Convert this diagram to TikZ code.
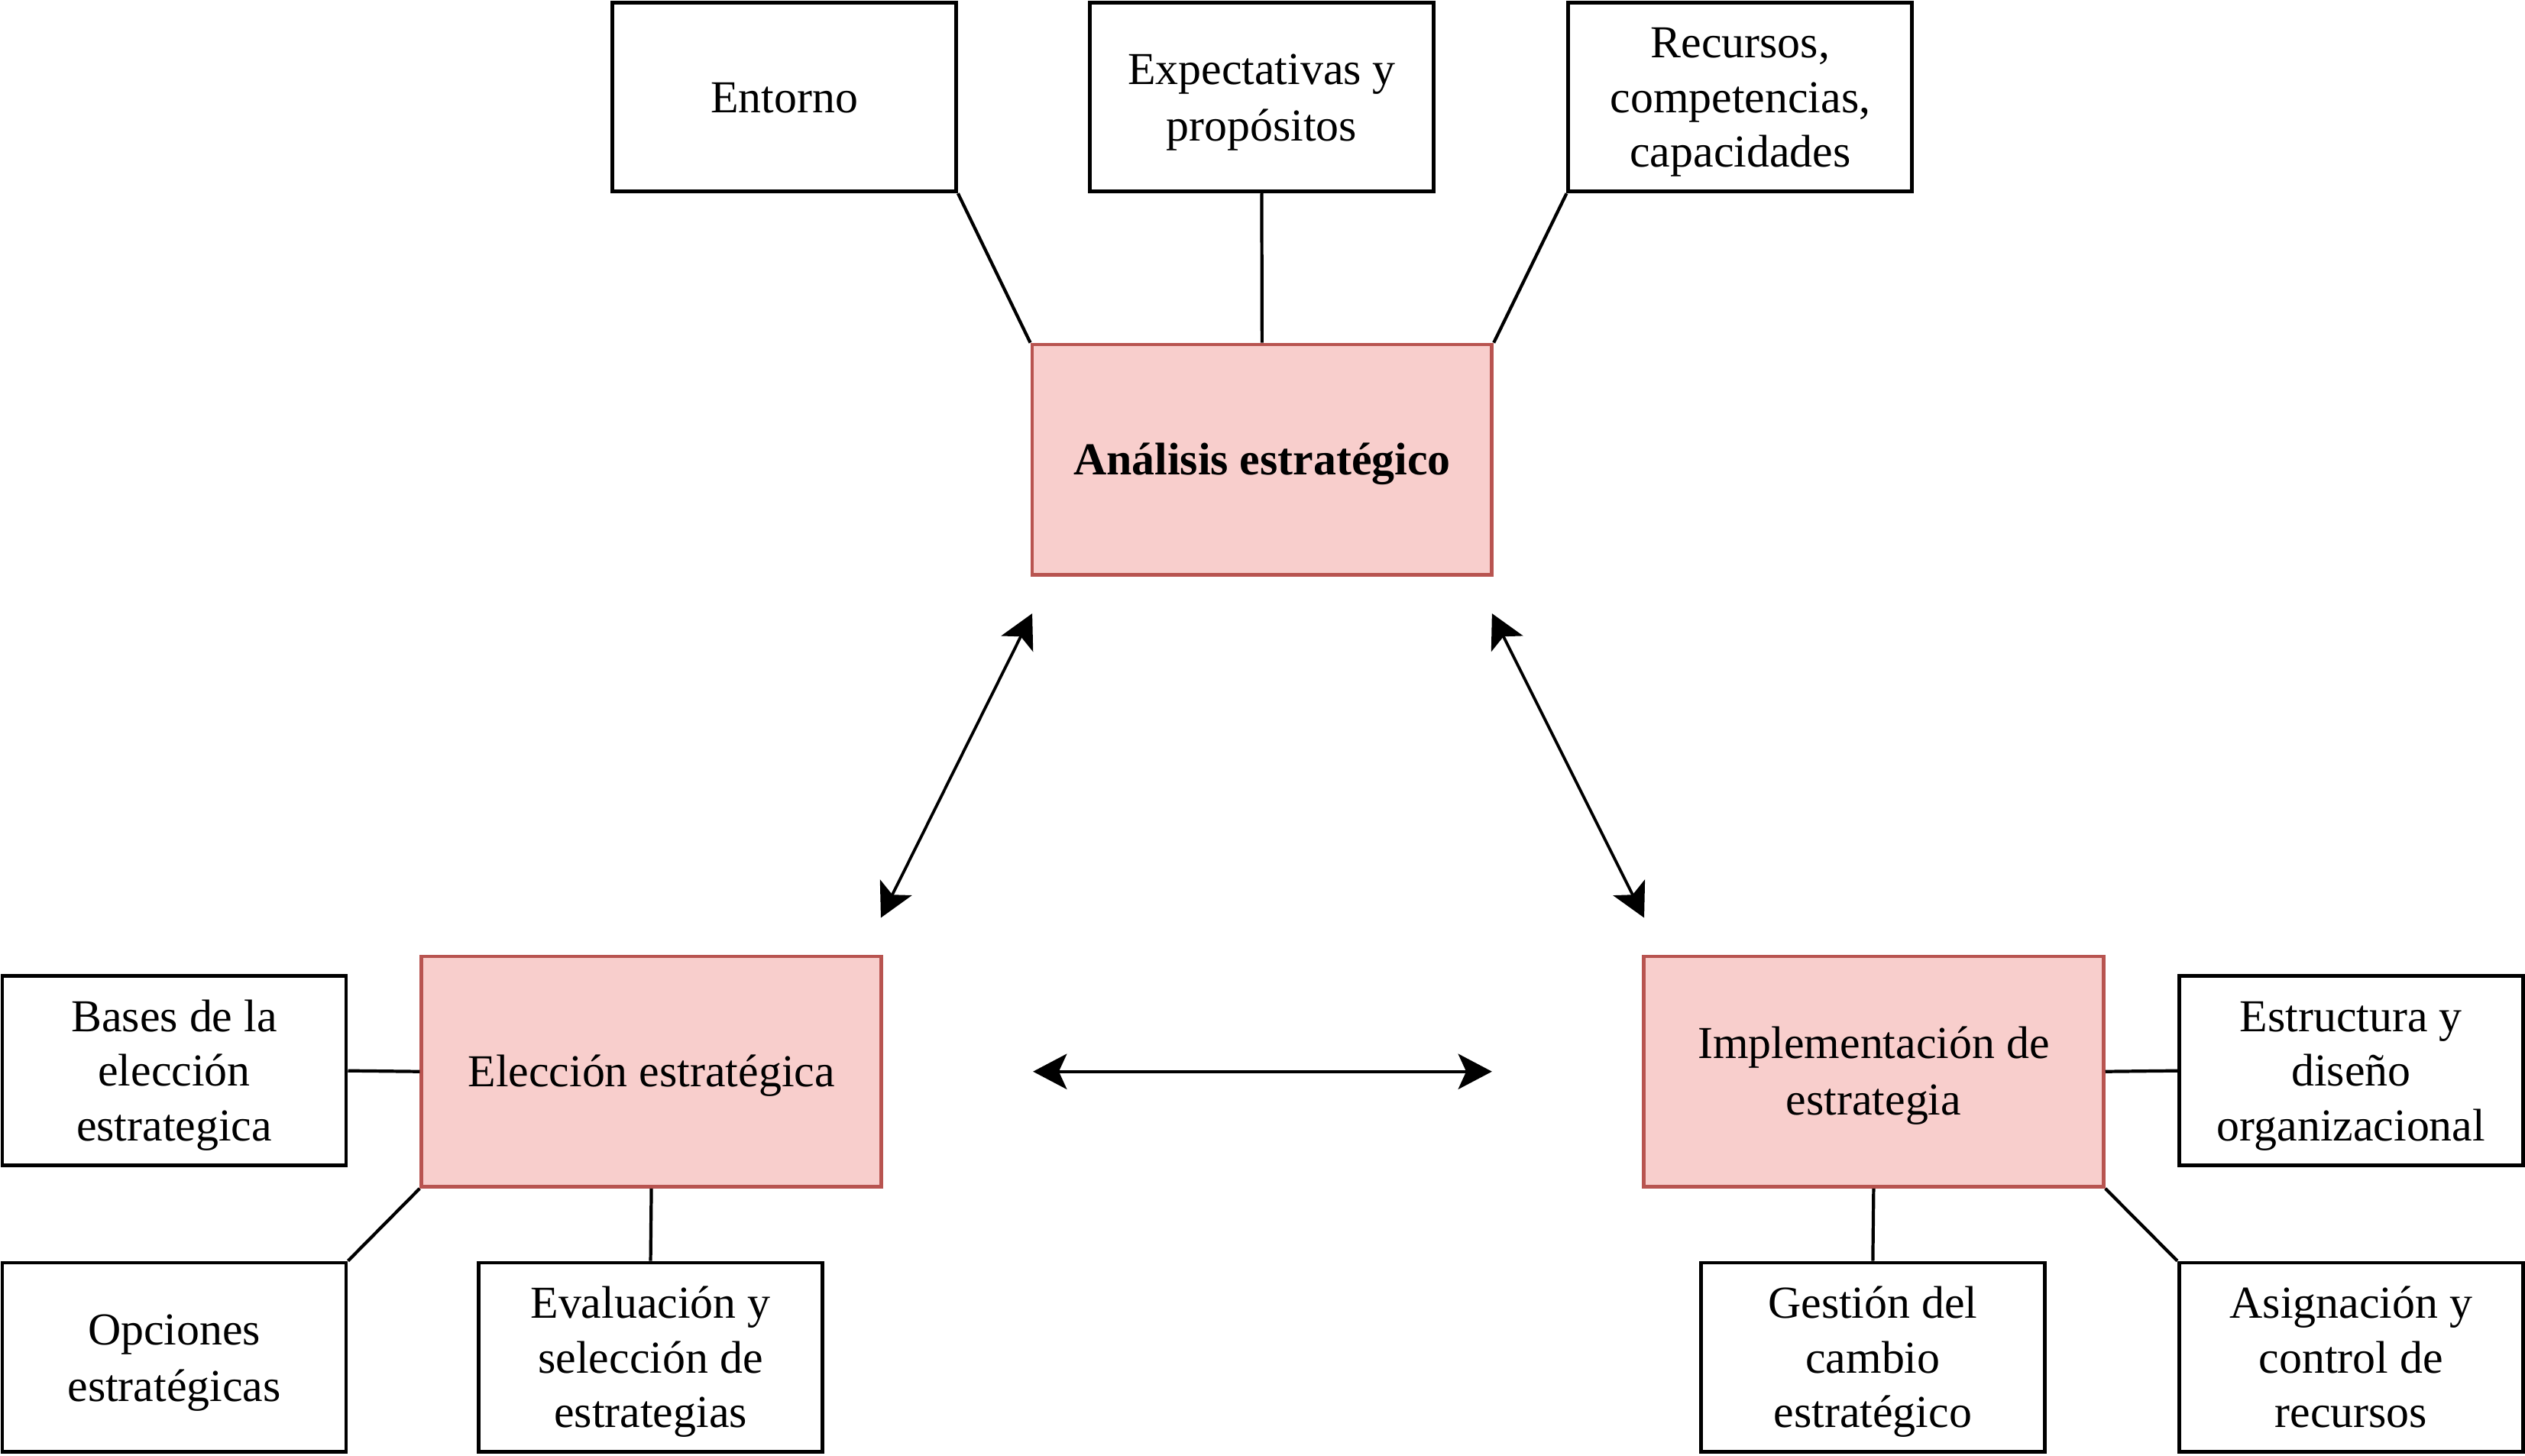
\documentclass[tikz,border=0pt]{standalone}
\usepackage{fontspec}
\setmainfont{Liberation Serif}
\usetikzlibrary{arrows.meta}
\definecolor{pinkfill}{HTML}{F8CECC}
\definecolor{pinkdraw}{HTML}{B85450}
\newcommand\dstrut{\rule[-0.2625em]{0pt}{1.2em}}
\begin{document}
\begin{tikzpicture}[x=1pt,y=-1pt,
  every node/.style={font=\fontsize{28.4}{34}\selectfont, align=center, inner sep=0pt},
  smallbox/.style={draw=black, line width=2.3pt, fill=white, minimum width=213.5pt, minimum height=117.5pt},
  mainbox/.style={draw=pinkdraw, line width=2.3pt, fill=pinkfill, minimum width=285.5pt, minimum height=143pt},
  link/.style={draw=black, line width=2pt},
  dbl/.style={draw=black, line width=1.8pt, {Stealth[length=21pt,width=22pt,inset=5pt]}-{Stealth[length=21pt,width=22pt,inset=5pt]}}
]
\useasboundingbox (0,0) rectangle (1568,904);
% main boxes
\node[mainbox] (ana) at (783.7,285.5) {\dstrut\textbf{Análisis estratégico}};
\node[mainbox] (ele) at (404.5,665.5) {\dstrut Elección estratégica};
\node[mainbox] (imp) at (1163.5,665.5) {\dstrut Implementación de\\estrategia\dstrut};
% top boxes
\node[smallbox] (ent) at (487,60.25) {\dstrut Entorno};
\node[smallbox] (exp) at (783.5,60.25) {\dstrut Expectativas y\\propósitos\dstrut};
\node[smallbox] (rec) at (1080.7,60.25) {\dstrut Recursos,\\competencias,\\capacidades\dstrut};
% left boxes
\node[smallbox] (bas) at (108.2,665) {\dstrut Bases de la\\elección\\estrategica\dstrut};
\node[smallbox] (opc) at (108.2,843) {\dstrut Opciones\\estratégicas\dstrut};
\node[smallbox] (eva) at (404,843) {\dstrut Evaluación y\\selección de\\estrategias\dstrut};
% right boxes
\node[smallbox] (est) at (1460,665) {\dstrut Estructura y\\diseño\\organizacional\dstrut};
\node[smallbox] (ges) at (1163,843) {\dstrut Gestión del\\cambio\\estratégico\dstrut};
\node[smallbox] (asi) at (1460,843) {\dstrut Asignación y\\control de\\recursos\dstrut};
% links
\draw[link] (ent.south east) -- (ana.north west);
\draw[link] (exp.south) -- (ana.north);
\draw[link] (rec.south west) -- (ana.north east);
\draw[link] (bas.east) -- (ele.west);
\draw[link] (opc.north east) -- (ele.south west);
\draw[link] (eva.north) -- (ele.south);
\draw[link] (est.west) -- (imp.east);
\draw[link] (ges.north) -- (imp.south);
\draw[link] (asi.north west) -- (imp.south east);
% arrows
\coordinate (a1) at (641,381);
\coordinate (a2) at (547,570);
\coordinate (b1) at (926.5,381);
\coordinate (b2) at (1021,570);
\coordinate (c1) at (641.5,665.5);
\coordinate (c2) at (926.5,665.5);
\draw[dbl] (a1) -- (a2);
\draw[dbl] (b1) -- (b2);
\draw[dbl] (c1) -- (c2);
\end{tikzpicture}
\end{document}
